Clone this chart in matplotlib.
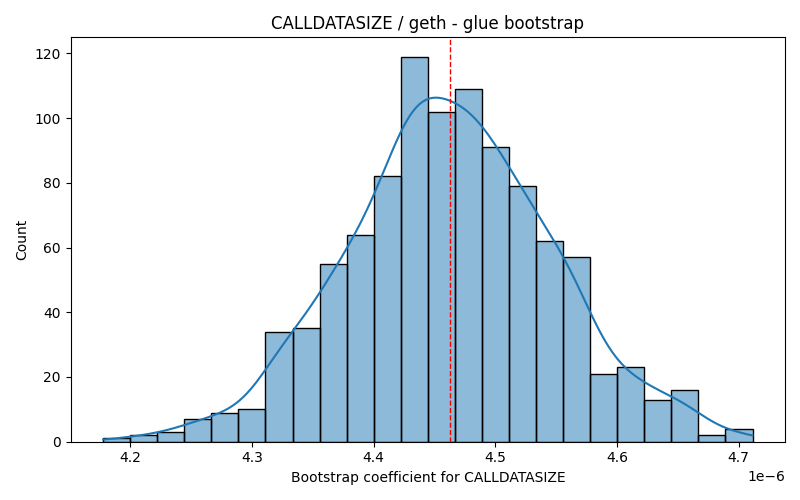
import numpy as np
import matplotlib
matplotlib.use("Agg")
import matplotlib.pyplot as plt

# histogram (bin edges in units of 1e-6)
bin_start = 4.1777
bin_width = 0.02224
counts = [1, 2, 3, 7, 9, 10, 34, 35, 55, 64, 82, 119,
          102, 109, 91, 79, 62, 57, 21, 23, 13, 16, 2, 4]
mean_line = 4.4625

title = "CALLDATASIZE / geth - glue bootstrap"
xlabel = "Bootstrap coefficient for CALLDATASIZE"


def weighted_kde(centers, weights, grid):
    # counts are repeated observations, so n is their sum
    w = np.asarray(weights, float)
    n = w.sum()
    mu = np.sum(w * centers) / n
    sd = np.sqrt(np.sum(w * (centers - mu) ** 2) / n)
    bw = sd * n ** (-1 / 5)
    z = (grid[:, None] - centers[None, :]) / bw
    dens = (np.exp(-0.5 * z ** 2) * w).sum(axis=1) / (n * bw * np.sqrt(2 * np.pi))
    return dens


edges = (bin_start + bin_width * np.arange(len(counts) + 1)) * 1e-6
centers = (edges[:-1] + edges[1:]) / 2
widths = np.diff(edges)

fig, ax = plt.subplots(figsize=(8, 5), dpi=100)
ax.bar(edges[:-1], counts, width=widths, align="edge",
       color="C0", alpha=0.5, edgecolor="none")
ax.bar(edges[:-1], counts, width=widths, align="edge",
       fill=False, edgecolor="black", linewidth=1)

grid = np.linspace(edges[0], edges[-1], 200)
dens = weighted_kde(centers, counts, grid)
ax.plot(grid, dens * sum(counts) * widths[0], color="C0", linewidth=1.5)

ax.axvline(mean_line * 1e-6, color="red", linestyle="--", linewidth=1)

ax.set_title(title)
ax.set_xlabel(xlabel)
ax.set_ylabel("Count")

fig.tight_layout()
fig.savefig("out.png")
